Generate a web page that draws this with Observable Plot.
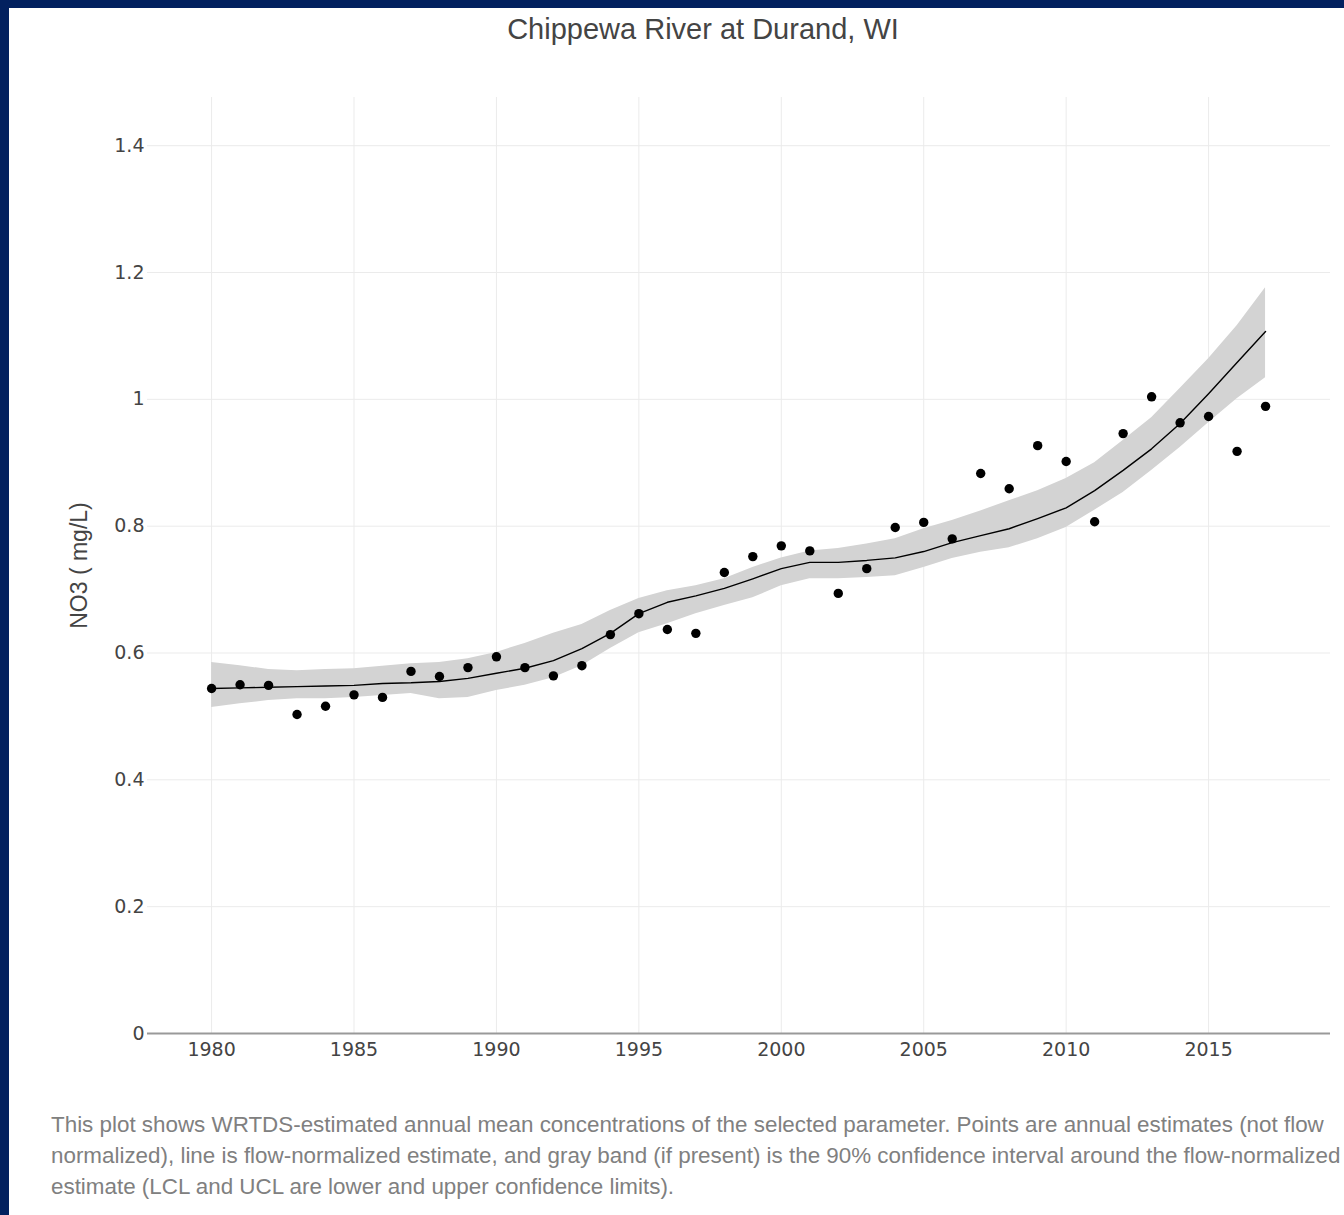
<!DOCTYPE html>
<html>
<head>
<meta charset="utf-8">
<script src="https://cdn.jsdelivr.net/npm/d3@7"></script>
<script src="https://cdn.jsdelivr.net/npm/@observablehq/plot@0.6"></script>
<style>
  html, body { margin: 0; padding: 0; }
  body { background: #02215f; width: 1344px; height: 1215px; overflow: hidden; position: relative; }
  #panel { position: absolute; left: 9px; top: 8px; width: 1335px; height: 1207px; background: #fff; }
  #title { position: absolute; left: 694px; top: 7px; transform: translateX(-50%); white-space: nowrap;
           font-family: "Liberation Sans", Arial, sans-serif; font-size: 29px; line-height: 29px; color: #444; }
  #chart { position: absolute; left: 0; top: 0; }
  #caption { position: absolute; left: 42px; top: 1101px; white-space: nowrap;
             font-family: "Liberation Sans", Arial, sans-serif; font-size: 22.4px; line-height: 31px; color: #808080; }
</style>
</head>
<body>
<div id="panel">
  <div id="chart"></div>
  <div id="title">Chippewa River at Durand, WI</div>
  <div id="caption">This plot shows WRTDS-estimated annual mean concentrations of the selected parameter. Points are annual estimates (not flow<br>normalized), line is flow-normalized estimate, and gray band (if present) is the 90% confidence interval around the flow-normalized<br>estimate (LCL and UCL are lower and upper confidence limits).</div>
</div>
<script>
const years = d3.range(1980, 2018);
const annual = [0.544,0.550,0.549,0.503,0.516,0.534,0.530,0.571,0.563,0.577,
                0.594,0.577,0.564,0.580,0.629,0.662,0.637,0.631,0.727,0.752,
                0.769,0.761,0.694,0.733,0.798,0.806,0.780,0.883,0.859,0.927,
                0.902,0.807,0.946,1.004,0.963,0.973,0.918,0.989];
const flowNormalized = [0.544,0.545,0.546,0.547,0.548,0.549,0.552,0.553,0.555,0.560,
                0.568,0.576,0.588,0.607,0.631,0.662,0.680,0.690,0.702,0.717,
                0.733,0.743,0.743,0.746,0.750,0.760,0.774,0.785,0.796,0.812,
                0.829,0.856,0.888,0.922,0.962,1.009,1.058,1.107];
const ucl = [0.585,0.580,0.574,0.572,0.574,0.575,0.579,0.583,0.585,0.591,
             0.601,0.615,0.631,0.645,0.667,0.686,0.698,0.706,0.717,0.735,
             0.750,0.761,0.765,0.772,0.780,0.796,0.809,0.824,0.840,0.856,
             0.875,0.900,0.935,0.971,1.017,1.064,1.116,1.176];
const lcl = [0.514,0.520,0.525,0.528,0.528,0.530,0.533,0.536,0.528,0.530,
             0.541,0.549,0.561,0.580,0.607,0.632,0.646,0.662,0.675,0.687,
             0.706,0.717,0.717,0.719,0.722,0.735,0.749,0.759,0.766,0.780,
             0.798,0.825,0.853,0.888,0.924,0.963,1.001,1.034];
const xTicks = [1980, 1985, 1990, 1995, 2000, 2005, 2010, 2015];
const yTicks = [0, 0.2, 0.4, 0.6, 0.8, 1, 1.2, 1.4];
const yLabel = "NO3 ( mg/L)";

const data = years.map((year, i) => ({year, annual: annual[i], fn: flowNormalized[i], lcl: lcl[i], ucl: ucl[i]}));

const chart = Plot.plot({
  width: 1335,
  height: 1060,
  marginLeft: 138,
  marginRight: 14,
  marginTop: 89,
  marginBottom: 35,
  style: {background: "transparent", fontFamily: "DejaVu Sans"},
  x: {domain: [1977.75, 2019.28]},
  y: {domain: [0, 1.476]},
  marks: [
    Plot.gridX(xTicks, {stroke: "#ebebeb", strokeOpacity: 1, strokeWidth: 1}),
    Plot.gridY(yTicks, {stroke: "#ebebeb", strokeOpacity: 1, strokeWidth: 1}),
    Plot.areaY(data, {x: "year", y1: "lcl", y2: "ucl", fill: "#d3d3d3"}),
    Plot.lineY(data, {x: "year", y: "fn", stroke: "#000", strokeWidth: 1.4}),
    Plot.dot(data, {x: "year", y: "annual", r: 4.7, fill: "#000", stroke: "none"}),
    Plot.ruleY([0], {stroke: "#999", strokeWidth: 2}),
    Plot.axisX(xTicks, {tickSize: 0, tickPadding: 9, fontSize: 19, fill: "#444", fontFamily: "DejaVu Sans", tickFormat: d => `${d}`, label: null}),
    Plot.axisY(yTicks, {tickSize: 0, tickPadding: 3, fontSize: 19, fill: "#444", fontFamily: "DejaVu Sans", tickFormat: d => `${d}`, label: null}),
    Plot.text([yLabel], {frameAnchor: "left", dx: -68, rotate: -90, fontSize: 23, fill: "#444", fontFamily: "Liberation Sans", textAnchor: "middle", lineAnchor: "middle"})
  ]
});
document.getElementById("chart").appendChild(chart);
</script>
</body>
</html>
